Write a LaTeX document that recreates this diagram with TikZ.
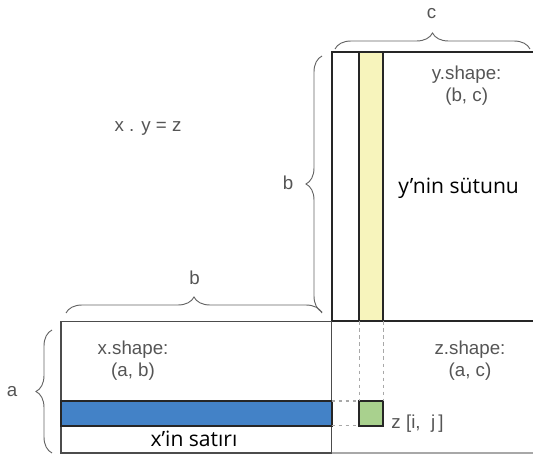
\documentclass[tikz,border=0pt]{standalone}
\usepackage{fontspec}
\setmainfont{Liberation Sans}
\newfontfamily\bodyfont{Open Sans}
\usetikzlibrary{decorations.pathreplacing,positioning}
\definecolor{Ink}{HTML}{262626}
\definecolor{Slate}{HTML}{555555}
\definecolor{Faint}{HTML}{A8A8A8}
\definecolor{RowBlue}{HTML}{4382C7}
\definecolor{ColYellow}{HTML}{F7F4BC}
\definecolor{CellGreen}{HTML}{A9D18E}

\begin{document}
\begin{tikzpicture}[x=1cm,y=1cm,every node/.style={font=\fontsize{16}{19}\selectfont,text=Slate},
    brc/.style={decorate,decoration={brace,amplitude=0.48cm},draw=Slate!90,line width=0.8pt},
    stripe/.style={draw=Ink,line width=1.5pt,inner sep=0pt,outer sep=0pt},
    bigtext/.style={font=\bodyfont\fontsize{18}{22}\selectfont,text=black}]
      \useasboundingbox (0,0) rectangle (15.99,13.68);

      % y matrix (right edge runs off the picture)
      \draw[Ink,line width=1.5pt] (15.99,12.13) -- (9.95,12.13) -- (9.95,4.04) -- (15.99,4.04);
      \node[stripe,fill=ColYellow,minimum width=0.72cm,minimum height=8.09cm] (ycol) at (11.14,8.085) {};

      % x matrix
      \draw[Slate!90!black,line width=1.3pt] (1.83,0.09) rectangle (9.95,4.04);
      \node[stripe,fill=RowBlue,minimum width=8.12cm,minimum height=0.74cm] (xrow) at (5.89,1.28) {};

      % z region
      \draw[Faint,line width=0.9pt] (9.95,0.09) -- (15.99,0.09);
      \node[stripe,fill=CellGreen,minimum width=0.72cm,minimum height=0.74cm] (cell) at (11.14,1.28) {};
      \draw[Faint,dashed,line width=0.9pt] (ycol.south west) -- (cell.north west);
      \draw[Faint,dashed,line width=0.9pt] (ycol.south east) -- (cell.north east);
      \draw[Faint,dashed,line width=0.9pt] (xrow.north east) -- (cell.north west);
      \draw[Faint,dashed,line width=0.9pt] (xrow.south east) -- (cell.south west);

      % braces
      \draw[brc] (10.05,12.21) -- (15.90,12.21);
      \node (clabel) at (12.95,13.27) {c};
      \draw[brc] (9.66,4.32) -- (9.66,12.00);
      \node (bvlabel) at (8.64,8.20) {b};
      \draw[brc] (1.98,4.29) -- (9.66,4.29);
      \node (bhlabel) at (5.84,5.36) {b};
      \draw[brc] (1.56,0.09) -- (1.56,3.78);
      \node (alabel) at (0.36,1.92) {a};

      % texts
      \node (eqn) at (4.44,9.84) {x . y = z};
      \node[align=center] (yshape) at (14.0,11.1) {y.shape:\\(b, c)};
      \node[align=center] (xshape) at (3.99,2.85) {x.shape:\\(a, b)};
      \node[align=center] (zshape) at (14.1,2.85) {z.shape:\\(a, c)};
      \node[bigtext] (colname) at (13.76,8.04) {y’nin sütunu};
      \node[bigtext] (rowname) at (5.82,0.50) {x’in satırı};
      \node[anchor=west] (cellname) at (11.62,0.96) {z [i,\ \ j\,]};
\end{tikzpicture}
\end{document}
